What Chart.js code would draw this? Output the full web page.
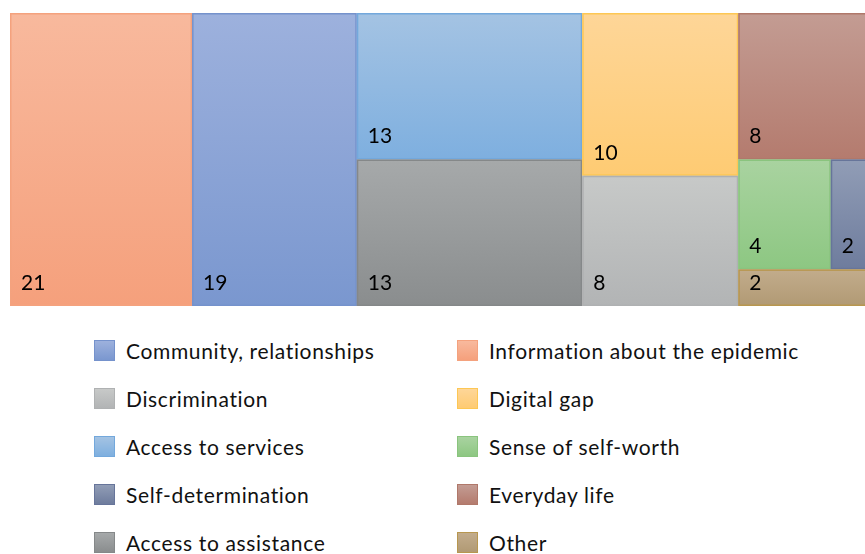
<!DOCTYPE html>
<html>
<head>
<meta charset="utf-8">
<script src="https://cdn.jsdelivr.net/npm/chart.js@4"></script>
<style>
body { margin: 0; background: #fff; overflow: hidden; width: 865px; height: 554px; font-family: Lato, sans-serif; }
#treemap { position: absolute; left: 0; top: 0; }
#legend { position: absolute; left: 0; top: 340px; }
.item { position: absolute; height: 21px; display: flex; align-items: center; white-space: nowrap; font-size: 21px; letter-spacing: 0.65px; color: #111; }
.box { width: 19px; height: 19px; border: 1px solid; margin-right: 11px; }
</style>
</head>
<body>
<canvas id="treemap" width="887" height="320"></canvas>
<div id="legend"></div>
<script>
// data
const categories = ['Information about the epidemic', 'Community, relationships', 'Access to services', 'Access to assistance', 'Digital gap', 'Discrimination', 'Everyday life', 'Sense of self-worth', 'Self-determination', 'Other'];
const counts = [21, 19, 13, 13, 10, 8, 8, 4, 2, 2];
// which tiles share a column / row (category indexes, nested = split the other way)
const tiling = [[0], [1], [2, 3], [4, 5], [6, [7, 8], 9]];
const legendOrder = ['Community, relationships', 'Information about the epidemic', 'Discrimination', 'Digital gap', 'Access to services', 'Sense of self-worth', 'Self-determination', 'Everyday life', 'Access to assistance', 'Other'];

// colours: gradient top, gradient bottom, border
const topColors = ['#f8b99d', '#9db1dd', '#a4c3e3', '#a6a9aa', '#fed698', '#c7c9c8', '#c39c93', '#a9d3a0', '#919db6', '#c2ac8c'];
const bottomColors = ['#f5a07c', '#7a97cf', '#7eafdf', '#8a8d8e', '#fecb73', '#b2b4b5', '#b47b6e', '#8dc782', '#6e7c9d', '#b19a74'];
const borderColors = ['#f4a27e', '#7592cc', '#73a8dc', '#858889', '#fdc754', '#afb1b2', '#b0786a', '#8ac47e', '#67759a', '#b8974f'];

function sumOf(node) {
    return Array.isArray(node) ? node.reduce((s, n) => s + sumOf(n), 0) : counts[node];
}

// slice and dice, alternating direction each level
function tile(nodes, x0, x1, y0, y1, horizontal, out) {
    const total = nodes.reduce((s, n) => s + sumOf(n), 0);
    let pos = horizontal ? x0 : y0;
    nodes.forEach(node => {
        const frac = sumOf(node) / total;
        let r;
        if (horizontal) {
            const w = (x1 - x0) * frac;
            r = [pos, pos + w, y0, y1];
            pos += w;
        } else {
            const h = (y1 - y0) * frac;
            r = [x0, x1, pos, pos + h];
            pos += h;
        }
        if (Array.isArray(node)) {
            tile(node, r[0], r[1], r[2], r[3], !horizontal, out);
        } else {
            out.push({ i: node, x0: r[0], x1: r[1], y0: r[2], y1: r[3] });
        }
    });
}

const totalCount = sumOf(tiling);
const tiles = [];
tile(tiling, 0, totalCount, 0, totalCount, true, tiles);

const treemapPlugin = {
    id: 'treemap',
    afterDatasetsDraw(chart) {
        const ctx = chart.ctx;
        const xs = chart.scales.x;
        const ys = chart.scales.y;
        tiles.forEach(t => {
            const left = xs.getPixelForValue(t.x0);
            const right = xs.getPixelForValue(t.x1);
            const top = ys.getPixelForValue(t.y0);
            const bottom = ys.getPixelForValue(t.y1);
            const grad = ctx.createLinearGradient(0, top, 0, bottom);
            grad.addColorStop(0, topColors[t.i]);
            grad.addColorStop(1, bottomColors[t.i]);
            ctx.save();
            ctx.fillStyle = grad;
            ctx.fillRect(left, top, right - left, bottom - top);
            ctx.strokeStyle = borderColors[t.i];
            ctx.lineWidth = 1.5;
            ctx.strokeRect(left + 0.75, top + 0.75, right - left - 1.5, bottom - top - 1.5);
            ctx.fillStyle = '#000';
            ctx.font = '21px Lato';
            ctx.textBaseline = 'middle';
            ctx.fillText(String(counts[t.i]), left + 11, bottom - 23);
            ctx.restore();
        });
    }
};

new Chart(document.getElementById('treemap'), {
    type: 'scatter',
    data: { datasets: [{ data: [] }] },
    options: {
        responsive: false,
        animation: false,
        layout: { padding: { left: 10, right: 10, top: 13, bottom: 14 } },
        scales: {
            x: { type: 'linear', min: 0, max: totalCount, display: false },
            y: { type: 'linear', min: 0, max: totalCount, reverse: true, display: false }
        },
        plugins: { legend: { display: false }, tooltip: { enabled: false } }
    },
    plugins: [treemapPlugin]
});

// legend, two columns
const legend = document.getElementById('legend');
legendOrder.forEach((name, k) => {
    const i = categories.indexOf(name);
    const item = document.createElement('div');
    item.className = 'item';
    item.style.left = (k % 2 === 0 ? 94 : 457) + 'px';
    item.style.top = (Math.floor(k / 2) * 48) + 'px';
    item.innerHTML = '<span class="box" style="background:linear-gradient(' + topColors[i] + ',' + bottomColors[i] + ');border-color:' + borderColors[i] + '"></span>' + name;
    legend.appendChild(item);
});
</script>
</body>
</html>
